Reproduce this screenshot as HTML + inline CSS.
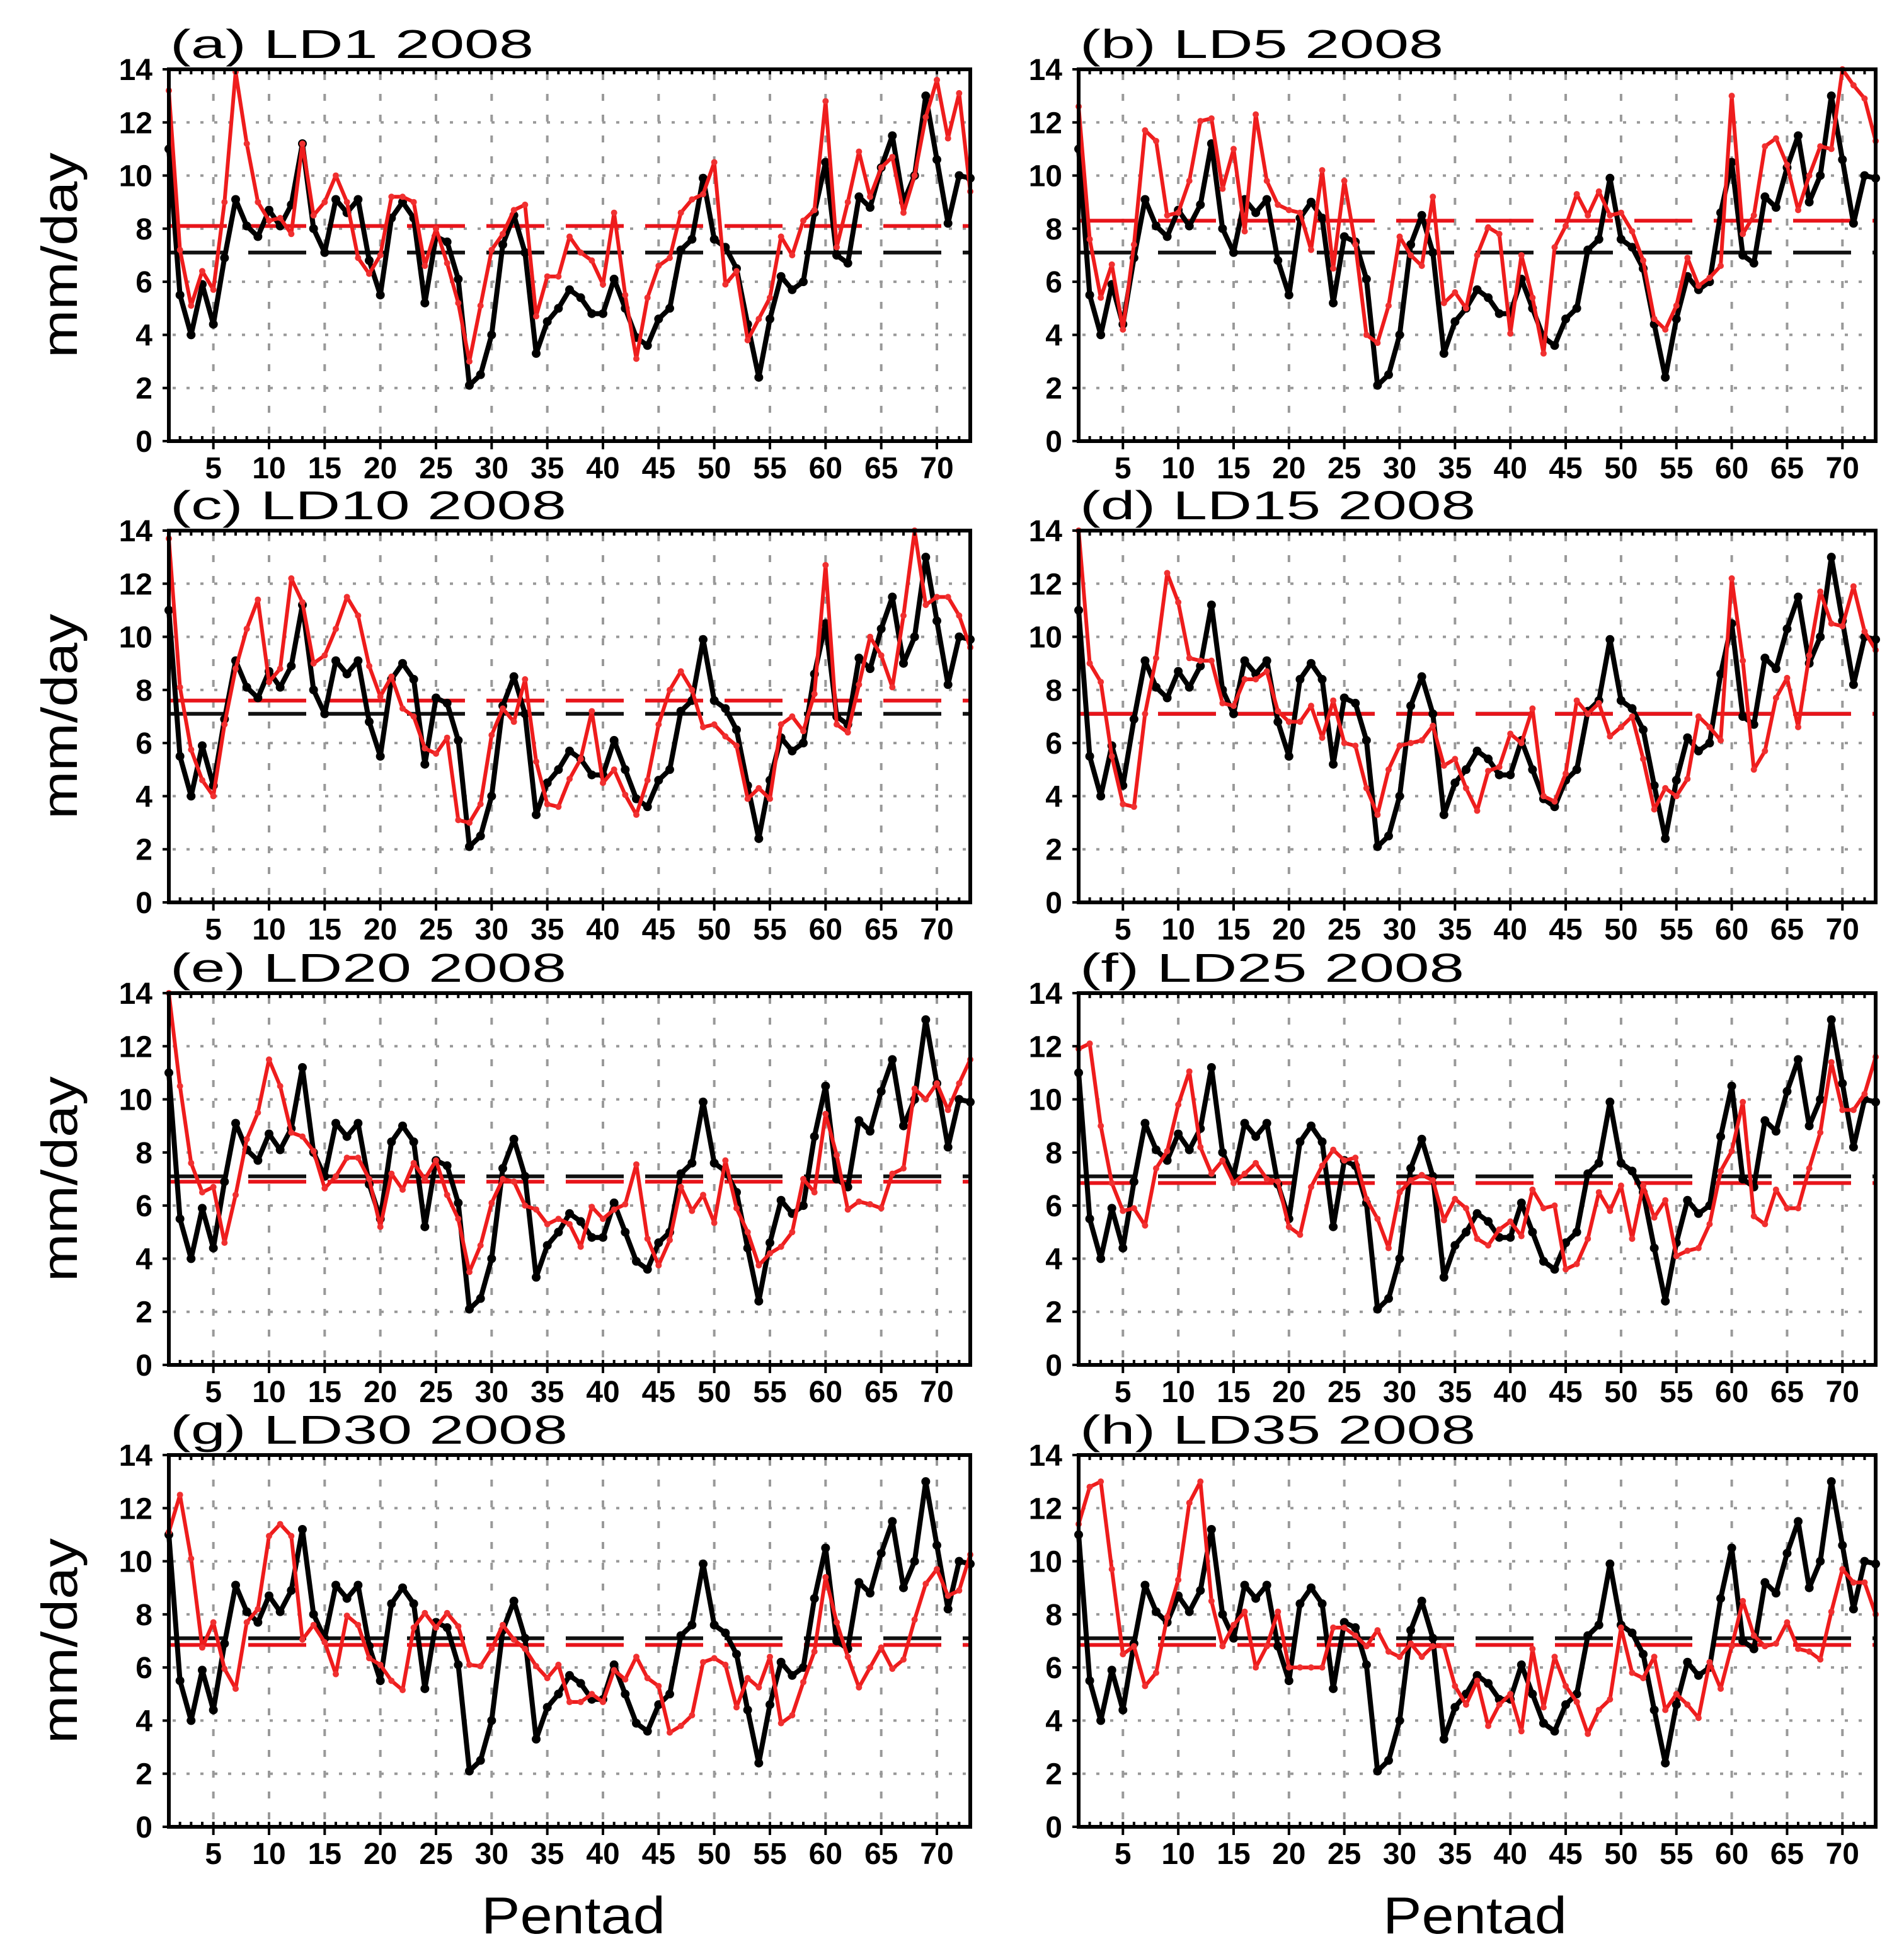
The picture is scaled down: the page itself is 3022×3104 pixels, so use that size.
<!DOCTYPE html>
<html><head><meta charset="utf-8">
<style>
html,body{margin:0;padding:0;background:#fff;}
svg{display:block;}
text{font-family:"Liberation Sans",sans-serif;}
</style></head>
<body>
<svg id="fig" xmlns="http://www.w3.org/2000/svg" width="3022" height="3104" viewBox="0 0 3022 3104">
<rect x="0" y="0" width="3022" height="3104" fill="#fff"/>
</svg>
<script>
const xTicks = [5,10,15,20,25,30,35,40,45,50,55,60,65,70];
const yTicks = [0,2,4,6,8,10,12,14];
const obs = [11.0,5.5,4.0,5.9,4.4,6.9,9.1,8.1,7.7,8.7,8.1,8.9,11.2,8.0,7.1,9.1,8.6,9.1,6.8,5.5,8.4,9.0,8.4,5.2,7.7,7.5,6.1,2.1,2.5,4.0,7.4,8.5,7.1,3.3,4.5,5.0,5.7,5.4,4.8,4.8,6.1,5.0,3.9,3.6,4.6,5.0,7.2,7.6,9.9,7.6,7.3,6.5,4.4,2.4,4.6,6.2,5.7,6.0,8.6,10.5,7.0,6.7,9.2,8.8,10.3,11.5,9.0,10.0,13.0,10.6,8.2,10.0,9.9];
const obsMean = 7.1;
const redA = [13.2,7.2,5.1,6.4,5.7,9.0,13.9,11.2,9.0,8.3,8.4,7.8,11.2,8.5,9.0,10.0,9.0,6.9,6.3,7.0,9.2,9.2,9.0,6.6,8.0,6.7,5.2,3.0,5.1,7.2,7.8,8.7,8.9,4.7,6.2,6.2,7.7,7.1,6.8,5.9,8.6,5.5,3.1,5.4,6.6,6.9,8.6,9.1,9.3,10.5,5.9,6.4,3.8,4.6,5.4,7.7,7.0,8.3,8.7,12.8,7.3,9.0,10.9,9.2,10.3,10.7,8.6,10.0,12.2,13.6,11.4,13.1,9.4];
const redB = [12.6,7.6,5.4,6.65,4.2,7.4,11.7,11.3,8.5,8.6,9.8,12.05,12.15,9.5,11.0,7.9,12.3,9.8,8.9,8.7,8.6,7.2,10.2,6.5,9.8,7.4,4.0,3.7,5.1,7.7,7.0,6.6,9.2,5.2,5.6,5.0,7.0,8.05,7.8,4.05,7.0,5.4,3.3,7.3,8.1,9.3,8.5,9.4,8.5,8.6,7.9,6.8,4.6,4.2,5.1,6.9,5.85,6.15,6.6,13.0,7.8,8.5,11.1,11.4,10.4,8.7,10.0,11.1,11.0,14.0,13.4,12.9,11.3];
const redC = [13.7,8.1,5.75,4.6,4.0,6.7,8.8,10.3,11.4,8.3,8.8,12.2,11.3,9.0,9.3,10.3,11.5,10.8,8.9,7.75,8.5,7.3,7.0,5.8,5.6,6.2,3.1,3.0,3.7,6.3,7.3,6.8,8.4,5.3,3.7,3.6,4.65,5.4,7.2,4.5,5.0,4.05,3.3,4.6,6.7,8.0,8.7,8.0,6.6,6.7,6.25,5.9,3.9,4.3,3.9,6.7,7.0,6.45,7.85,12.7,6.7,6.4,8.2,10.0,9.3,8.1,10.8,14.0,11.2,11.5,11.5,10.8,9.6];
const redD = [14.0,9.0,8.3,5.5,3.7,3.6,7.1,9.2,12.4,11.3,9.2,9.1,9.1,7.5,7.4,8.4,8.4,8.7,7.2,6.8,6.8,7.4,6.2,7.6,6.0,5.9,4.3,3.3,5.0,5.9,6.0,6.1,6.65,5.15,5.4,4.3,3.45,4.95,5.1,6.35,6.0,7.3,4.0,3.8,4.85,7.6,7.1,7.5,6.25,6.6,7.0,5.4,3.5,4.3,4.0,4.65,7.0,6.6,6.1,12.2,9.1,5.0,5.7,7.7,8.45,6.6,9.3,11.7,10.5,10.4,11.9,10.2,9.5];
const redE = [14.0,10.5,7.6,6.5,6.7,4.6,6.4,8.5,9.5,11.5,10.5,8.75,8.6,8.05,6.65,7.1,7.8,7.8,7.0,5.2,7.2,6.6,7.6,7.0,7.7,6.4,5.5,3.5,4.5,6.1,7.0,6.9,6.0,5.85,5.3,5.5,5.3,4.45,5.95,5.5,5.85,6.05,7.55,4.75,3.75,4.7,6.7,5.8,6.4,5.35,7.7,5.9,5.0,3.75,4.2,4.45,5.0,7.0,6.5,9.45,7.9,5.85,6.15,6.05,5.9,7.2,7.4,10.4,10.0,10.6,9.6,10.6,11.5];
const redF = [11.9,12.1,9.0,6.85,5.8,5.9,5.25,7.4,8.05,9.8,11.05,8.2,7.2,7.7,6.85,7.2,7.6,7.0,6.9,5.2,4.9,6.7,7.5,8.1,7.7,7.8,6.25,5.5,4.4,6.5,6.95,7.15,6.95,5.45,6.25,5.9,4.75,4.5,5.1,5.4,4.85,6.6,5.9,6.0,3.6,3.8,4.75,6.5,5.8,6.75,4.75,6.75,5.55,6.2,4.1,4.3,4.4,5.3,7.3,8.05,9.9,5.6,5.3,6.6,5.9,5.9,7.4,8.75,11.4,9.6,9.6,10.2,11.6];
const redG = [11.1,12.5,10.1,6.75,7.7,5.95,5.2,7.7,8.2,10.95,11.4,10.95,7.05,7.6,6.95,5.75,7.95,7.6,6.35,6.1,5.5,5.15,7.5,8.05,7.5,8.05,7.55,6.1,6.05,6.7,7.6,7.05,6.7,6.05,5.6,6.1,4.7,4.7,5.0,4.7,5.9,5.55,6.4,5.6,5.3,3.55,3.8,4.2,6.2,6.35,6.1,4.5,5.6,5.25,6.4,3.9,4.2,5.45,6.6,9.4,7.7,6.4,5.25,6.0,6.75,5.95,6.3,7.8,9.15,9.7,8.7,8.9,10.25];
const redH = [11.4,12.8,13.0,9.7,6.5,6.8,5.3,5.8,7.9,9.3,12.2,13.0,8.5,6.8,7.6,8.1,6.0,6.8,8.1,6.0,6.0,6.0,6.0,7.5,7.5,7.2,6.8,7.4,6.6,6.4,6.9,6.4,6.8,6.8,5.3,4.6,5.5,3.8,4.6,5.0,3.6,6.7,4.5,6.4,5.3,4.7,3.5,4.4,4.8,7.5,5.8,5.6,6.4,4.4,5.0,4.6,4.1,6.2,5.2,6.8,8.5,7.2,6.8,6.9,7.7,6.7,6.6,6.3,8.1,9.7,9.2,9.2,8.0];
const redMeans = [8.1,8.3,7.6,7.1,6.9,6.85,6.85,6.85];
const panelTitles = ["(a) LD1  2008","(b) LD5  2008","(c) LD10  2008","(d) LD15  2008","(e) LD20  2008","(f) LD25  2008","(g) LD30  2008","(h) LD35  2008"];
const panelSeries = [redA,redB,redC,redD,redE,redF,redG,redH];

const NS = "http://www.w3.org/2000/svg";
const svg = document.getElementById('fig');
function mk(tag, attrs, parent){
  const e = document.createElementNS(NS, tag);
  for (const k in attrs) e.setAttribute(k, attrs[k]);
  (parent||svg).appendChild(e);
  return e;
}
const colX = [[268,1540],[1712,2977]];
const rowY = [110,842,1576,2309];
const PH = 590;
const titleLen = [577,577,629,628,629,610,631,628];

for (let p = 0; p < 8; p++) {
  const col = p % 2, row = Math.floor(p / 2);
  const x0 = colX[col][0], x1 = colX[col][1];
  const y0 = rowY[row], y1 = y0 + PH;
  const sx = v => x0 + (v - 1) / 72 * (x1 - x0);
  const sy = v => y1 - v / 14 * PH;
  const g = mk('g', {});
  
  

  yTicks.forEach(t => {
    if (t === 0 || t === 14) return;
    const l = mk('line', {x1:x0+6, x2:x1-6, y1:sy(t), y2:sy(t), stroke:'#999', 'stroke-width':4, 'stroke-dasharray':'5 17'}, g);
    
    
  });
  xTicks.forEach(t => {
    const l = mk('line', {x1:sx(t), x2:sx(t), y1:y0+6, y2:y1-6, stroke:'#999', 'stroke-width':4, 'stroke-dasharray':'11 22'}, g);
    
    
  });

  const mo = mk('line', {x1:x0, x2:x1, y1:sy(obsMean), y2:sy(obsMean), stroke:'#111', 'stroke-width':6, 'stroke-dasharray':'92 34'}, g);
  
  
  const mr = mk('line', {x1:x0, x2:x1, y1:sy(redMeans[p]), y2:sy(redMeans[p]), stroke:'#e8141a', 'stroke-width':6, 'stroke-dasharray':'92 34'}, g);
  
  

  const op = mk('polyline', {points: obs.map((v,i)=>sx(i+1)+','+sy(v)).join(' '), fill:'none', stroke:'#000', 'stroke-width':8, 'stroke-linejoin':'round'}, g);
  
  
  obs.forEach((v,i) => {
    const c = mk('circle', {cx:sx(i+1), cy:sy(v), r:7, fill:'#000'}, g);
    
    
  });
  const rs = panelSeries[p];
  const rp = mk('polyline', {points: rs.map((v,i)=>sx(i+1)+','+sy(v)).join(' '), fill:'none', stroke:'#ee1c1c', 'stroke-width':6, 'stroke-linejoin':'round'}, g);
  
  
  rs.forEach((v,i) => {
    const c = mk('circle', {cx:sx(i+1), cy:sy(v), r:5, fill:'#f03030'}, g);
    
    
  });

  const fr = mk('rect', {x:x0, y:y0, width:x1-x0, height:PH, fill:'none', stroke:'#000', 'stroke-width':6}, g);
  
  
  for (let k = 1; k <= 73; k++) {
    mk('line', {x1:sx(k), x2:sx(k), y1:y0, y2:y0+8, stroke:'#000', 'stroke-width':4}, g);
    mk('line', {x1:sx(k), x2:sx(k), y1:y1, y2:y1-8, stroke:'#000', 'stroke-width':4}, g);
  }
  xTicks.forEach(t => {
    mk('line', {x1:sx(t), x2:sx(t), y1:y1, y2:y1+13, stroke:'#000', 'stroke-width':4}, g);
    const tx = mk('text', {x:sx(t), y:y1+59, 'font-size':48, 'font-weight':'bold', 'text-anchor':'middle'}, g);
    tx.textContent = t;
    
    
  });
  yTicks.forEach(t => {
    mk('line', {x1:x0-10, x2:x0, y1:sy(t), y2:sy(t), stroke:'#000', 'stroke-width':4}, g);
    const tx = mk('text', {x:x0-26, y:sy(t)+17, 'font-size':48, 'font-weight':'bold', 'text-anchor':'end'}, g);
    tx.textContent = t;
    
    
  });
  const tt = mk('text', {x:x0+2, y:y0-18, 'font-size':64, textLength:titleLen[p], lengthAdjust:'spacingAndGlyphs'}, g);
  tt.textContent = panelTitles[p];
  
  
  if (col === 0) {
    const cy = y0 + PH/2;
    const yl = mk('text', {x:0, y:0, 'font-size':80, 'text-anchor':'middle', textLength:326, lengthAdjust:'spacingAndGlyphs', transform:'translate(122,'+cy+') rotate(-90)'}, g);
    yl.textContent = 'mm/day';
    
    
  }
}
[[764,'x-axis-title-left'],[2195,'x-axis-title-right']].forEach(a => {
  const t = mk('text', {x:a[0], y:3068, 'font-size':83, textLength:292, lengthAdjust:'spacingAndGlyphs'});
  t.textContent = 'Pentad';
  
  
});
</script>
</body></html>
